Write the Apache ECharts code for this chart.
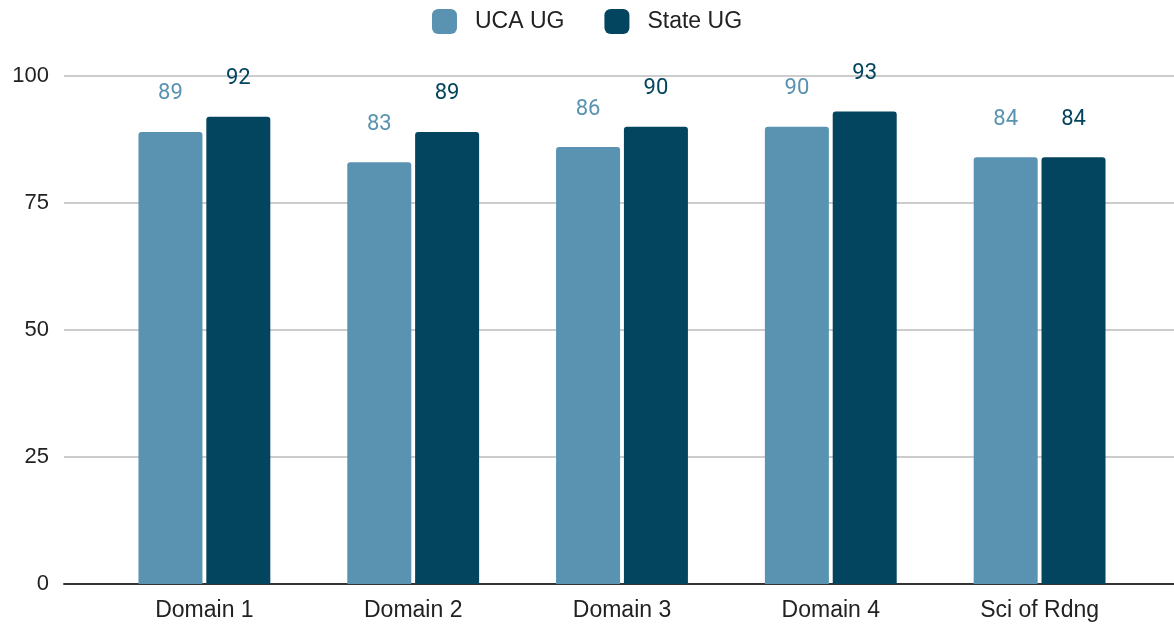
<!DOCTYPE html>
<html>
<head>
<meta charset="utf-8">
<title>UCA UG vs State UG</title>
<script src="https://cdn.jsdelivr.net/npm/echarts@6/dist/echarts.min.js"></script>
<style>
  html, body { margin: 0; padding: 0; background: #ffffff; }
  #chart { width: 1174px; height: 628px; }
</style>
</head>
<body>
<div id="chart"></div>
<script>
// Categories and series values
const categories = ['Domain 1', 'Domain 2', 'Domain 3', 'Domain 4', 'Sci of Rdng'];
const ucaUG = [89, 83, 86, 90, 84];
const stateUG = [92, 89, 90, 93, 84];
const seriesNames = ['UCA UG', 'State UG'];
const yTicks = { min: 0, max: 100, interval: 25 };

const COLOR_UCA = '#5a93b1';
const COLOR_STATE = '#03445f';
const AXIS_FONT = '"Liberation Sans", Arial, sans-serif';
const LABEL_FONT = 'Roboto, "Liberation Sans", sans-serif';

const chart = echarts.init(document.getElementById('chart'), null, { renderer: 'canvas' });

function barSeries(name, data, color) {
  return {
    name: name,
    type: 'bar',
    xAxisIndex: 1,
    yAxisIndex: 1,
    data: data,
    barWidth: 64,
    barGap: '6%',
    itemStyle: { color: color, borderRadius: [3, 3, 0, 0] },
    label: {
      show: true,
      position: 'top',
      distance: 27,
      color: color,
      fontFamily: LABEL_FONT,
      fontSize: 22
    }
  };
}

chart.setOption({
  animation: false,
  legend: {
    top: 4,
    left: 'center',
    itemWidth: 25,
    itemHeight: 25,
    itemGap: 40,
    icon: 'roundRect',
    textStyle: { fontFamily: AXIS_FONT, fontSize: 23, color: '#222222', padding: [0, 0, 0, 13] },
    data: seriesNames
  },
  grid: [
    // background grid: value gridlines and baseline across the full width
    { left: 64, right: 0, top: 76, bottom: 44 },
    // bar grid: category slots
    { left: 100, right: 30, top: 76, bottom: 44 }
  ],
  xAxis: [
    {
      gridIndex: 0,
      type: 'value',
      min: 0, max: 1,
      axisLine: { show: true, onZero: false, lineStyle: { color: '#333333', width: 2 } },
      axisTick: { show: false },
      axisLabel: { show: false },
      splitLine: { show: false },
      position: 'bottom'
    },
    {
      gridIndex: 1,
      type: 'category',
      data: categories,
      axisLine: { show: false },
      axisTick: { show: false },
      axisLabel: { fontFamily: AXIS_FONT, fontSize: 23, color: '#222222', margin: 15 }
    }
  ],
  yAxis: [
    {
      gridIndex: 0,
      type: 'value',
      min: yTicks.min, max: yTicks.max, interval: yTicks.interval,
      axisLine: { show: false },
      axisTick: { show: false },
      axisLabel: { fontFamily: AXIS_FONT, fontSize: 22, color: '#222222', margin: 15 },
      splitLine: { lineStyle: { color: '#cccccc', width: 2 } }
    },
    {
      gridIndex: 1,
      type: 'value',
      min: yTicks.min, max: yTicks.max, interval: yTicks.interval,
      show: false
    }
  ],
  series: [
    barSeries(seriesNames[0], ucaUG, COLOR_UCA),
    barSeries(seriesNames[1], stateUG, COLOR_STATE)
  ]
});
</script>
</body>
</html>
